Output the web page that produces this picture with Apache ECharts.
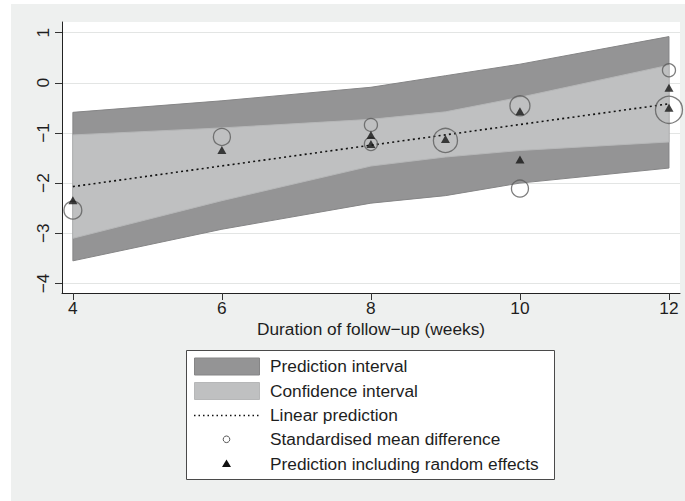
<!DOCTYPE html>
<html><head><meta charset="utf-8">
<script src="https://cdn.jsdelivr.net/npm/echarts@6/dist/echarts.min.js"></script>
<style>html,body{margin:0;padding:0;background:#fff}#c{width:685px;height:501px}</style>
</head><body><div id="c"></div>
<script>
// ---- data ----
const bandWeeks = [4, 6, 8, 9, 10, 12];
const piUpper = [-0.59, -0.36, -0.09, 0.14, 0.37, 0.92];
const piLower = [-3.55, -2.92, -2.40, -2.25, -2.00, -1.70];
const ciUpper = [-1.04, -0.90, -0.73, -0.58, -0.29, 0.35];
const ciLower = [-3.10, -2.35, -1.66, -1.48, -1.35, -1.18];
const fitWeeks = [4, 12];
const fitValues = [-2.07, -0.42];
const studyWeeks = [4, 6, 8, 8, 9, 10, 10, 12, 12];
const smdValues = [-2.54, -1.08, -0.84, -1.22, -1.15, -0.46, -2.11, 0.25, -0.54];
const studyWeights = [3.2, 2.9, 1.7, 1.7, 5.8, 4.0, 2.9, 1.7, 7.3];
const reValues = [-2.34, -1.34, -1.04, -1.22, -1.12, -0.57, -1.53, -0.10, -0.50];
const xTicks = [4, 6, 8, 10, 12];
const yTicks = [-4, -3, -2, -1, 0, 1];
const legendLabels = ['Prediction interval', 'Confidence interval', 'Linear prediction',
  'Standardised mean difference', 'Prediction including random effects'];
const xTitle = 'Duration of follow\u2212up (weeks)';

// ---- styles ----
const FONT = '"Liberation Sans", Arial, Helvetica, sans-serif';
const PI_FILL = '#949495', PI_EDGE = '#858586';
const CI_FILL = '#bfc0c1', CI_EDGE = '#b6b7b8';
const TXT = '#1e1e1e';
const FS = 17.3;

function bandSeries(name, up, lo, fill, edge) {
  return {
    type: 'custom', name: name, silent: true, clip: false, z: 1,
    data: bandWeeks.map((w, i) => [w, up[i], lo[i]]),
    encode: { x: 0, y: [1, 2] },
    renderItem: function (params, api) {
      if (params.dataIndex !== 0) return null;
      const top = bandWeeks.map((w, i) => api.coord([w, up[i]]));
      const bot = bandWeeks.map((w, i) => api.coord([w, lo[i]])).reverse();
      return { type: 'polygon', shape: { points: top.concat(bot) },
        style: { fill: fill, stroke: edge, lineWidth: 1 } };
    }
  };
}

const minus = v => String(v).replace('-', '\u2212');

const rowY = [366, 390.5, 415, 439.3, 463.5];
const legendGraphics = [
  { type: 'rect', shape: { x: 186.5, y: 350.5, width: 368, height: 129 },
    style: { fill: '#ffffff', stroke: '#4a4a4a', lineWidth: 1 }, z: 10 },
  { type: 'rect', shape: { x: 194.5, y: rowY[0] - 8, width: 65, height: 17 },
    style: { fill: PI_FILL, stroke: PI_EDGE, lineWidth: 1 }, z: 11 },
  { type: 'rect', shape: { x: 194.5, y: rowY[1] - 8, width: 65, height: 17 },
    style: { fill: CI_FILL, stroke: CI_EDGE, lineWidth: 1 }, z: 11 },
  { type: 'line', shape: { x1: 194, y1: rowY[2] + 0.5, x2: 260, y2: rowY[2] + 0.5 },
    style: { stroke: '#111', lineWidth: 1.3, lineDash: [1.5, 3] }, z: 11 },
  { type: 'circle', shape: { cx: 226.5, cy: rowY[3], r: 3.3 },
    style: { fill: 'none', stroke: '#555', lineWidth: 1 }, z: 11 },
  { type: 'polygon', shape: { points: [[222, rowY[4] + 3.5], [231, rowY[4] + 3.5], [226.5, rowY[4] - 4]] },
    style: { fill: '#111' }, z: 11 }
];
legendLabels.forEach((t, i) => {
  legendGraphics.push({ type: 'text', x: 270, y: rowY[i], z: 11,
    style: { text: t, fill: TXT, font: FS + 'px ' + FONT, textVerticalAlign: 'middle', textAlign: 'left' } });
});

const option = {
  backgroundColor: '#ffffff',
  animation: false,
  textStyle: { fontFamily: FONT },
  graphic: [
    { type: 'rect', shape: { x: 11, y: 4, width: 674, height: 497 }, style: { fill: '#eef0ef' }, z: -10, silent: true }
  ].concat(legendGraphics),
  grid: { left: 62, right: 5, top: 22, bottom: 208, show: true, backgroundColor: '#ffffff', borderWidth: 0 },
  xAxis: {
    type: 'value', min: 3.854, max: 12.148,
    name: xTitle, nameLocation: 'middle', nameGap: 25,
    nameTextStyle: { fontSize: FS, color: TXT, fontFamily: FONT },
    axisLine: { show: true, onZero: false, lineStyle: { color: '#222', width: 1 } },
    axisTick: { show: true, length: 7, customValues: xTicks, lineStyle: { color: '#333' } },
    axisLabel: { customValues: xTicks, fontSize: FS, color: TXT, margin: 6, fontFamily: FONT },
    splitLine: { show: false }
  },
  yAxis: {
    type: 'value', min: -4.191, max: 1.211,
    axisLine: { show: true, onZero: false, lineStyle: { color: '#222', width: 1 } },
    axisTick: { show: true, length: 7, customValues: yTicks, lineStyle: { color: '#333' } },
    axisLabel: { customValues: yTicks, fontSize: FS, color: TXT, margin: 11, rotate: 90,
      fontFamily: FONT, formatter: minus },
    splitLine: { show: true, lineStyle: { color: '#e3e5e4', width: 1.2 } }
  },
  series: [
    bandSeries('Prediction interval', piUpper, piLower, PI_FILL, PI_EDGE),
    bandSeries('Confidence interval', ciUpper, ciLower, CI_FILL, CI_EDGE),
    {
      type: 'line', name: 'Linear prediction', z: 3, silent: true,
      data: fitWeeks.map((w, i) => [w, fitValues[i]]),
      symbol: 'none', lineStyle: { color: '#111', width: 1.6, type: [2, 3.2] }
    },
    {
      type: 'scatter', name: 'Standardised mean difference', z: 4, clip: false, silent: true,
      data: studyWeeks.map((w, i) => [w, smdValues[i], studyWeights[i]]),
      symbol: 'circle',
      symbolSize: d => 10 * Math.sqrt(d[2]),
      itemStyle: { color: 'rgba(0,0,0,0)', borderColor: '#5c5c5c', borderWidth: 1.3 }
    },
    {
      type: 'scatter', name: 'Prediction including random effects', z: 5, clip: false, silent: true,
      data: studyWeeks.map((w, i) => [w, reValues[i]]),
      symbol: 'triangle', symbolSize: [9, 8],
      itemStyle: { color: '#151515' }
    }
  ]
};
const chart = echarts.init(document.getElementById('c'), null, { renderer: 'svg' });
chart.setOption(option);
</script></body></html>
